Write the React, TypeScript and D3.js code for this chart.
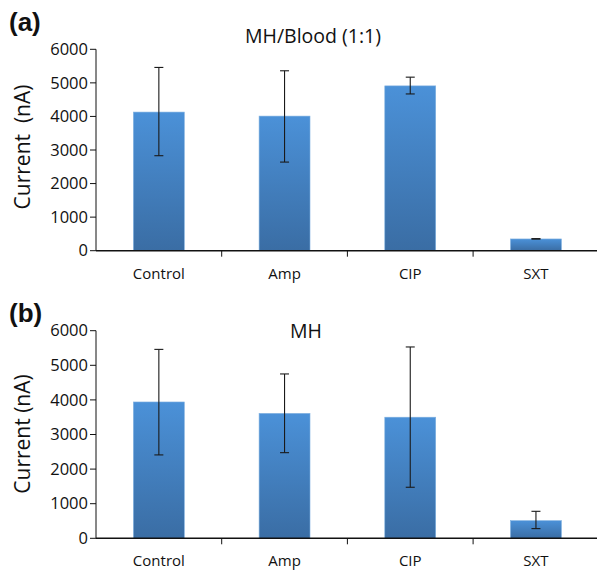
import React, { useEffect, useRef } from "react";
import * as d3 from "d3";

const categories = ["Control", "Amp", "CIP", "SXT"];
const yTicks = [0, 1000, 2000, 3000, 4000, 5000, 6000];

const bloodValues = [4130, 4010, 4910, 350];
const bloodErrLow = [2830, 2640, 4670, 345];
const bloodErrHigh = [5460, 5360, 5170, 360];

const mhValues = [3940, 3610, 3500, 510];
const mhErrLow = [2410, 2475, 1475, 280];
const mhErrHigh = [5460, 4750, 5530, 780];

const FONT = "'Open Sans', 'Liberation Sans', sans-serif";

type Panel = {
  tag: string;
  title: string;
  ylabel: string;
  values: number[];
  lo: number[];
  hi: number[];
  zeroY: number;
  topY: number;
  titleX: number;
  titleY: number;
  tagY: number;
  ylabelY: number;
};

const panels: Panel[] = [
  {
    tag: "(a)", title: "MH/Blood (1:1)", ylabel: "Current  (nA)",
    values: bloodValues, lo: bloodErrLow, hi: bloodErrHigh,
    zeroY: 250.7, topY: 49.3, titleX: 313, titleY: 43, tagY: 31, ylabelY: 147,
  },
  {
    tag: "(b)", title: "MH", ylabel: "Current (nA)",
    values: mhValues, lo: mhErrLow, hi: mhErrHigh,
    zeroY: 538.3, topY: 330.7, titleX: 306, titleY: 338, tagY: 322, ylabelY: 434,
  },
];

export default function App() {
  const ref = useRef<SVGSVGElement>(null);
  useEffect(() => {
    const svg = d3.select(ref.current);
    svg.selectAll("*").remove();
    const defs = svg.append("defs");
    const grad = defs.append("linearGradient").attr("id", "barGrad")
      .attr("x1", 0).attr("y1", 0).attr("x2", 0).attr("y2", 1);
    grad.append("stop").attr("offset", "0%").attr("stop-color", "#4b91d8");
    grad.append("stop").attr("offset", "100%").attr("stop-color", "#3a6da4");

    panels.forEach((p) => {
      const g = svg.append("g");
      const x = d3.scaleBand<string>().domain(categories).range([96, 598.8]).paddingInner(0).paddingOuter(0);
      const y = d3.scaleLinear().domain([0, 6000]).range([p.zeroY, p.topY]);
      const bw = x.bandwidth() * 0.405;

      // bars
      g.selectAll("rect.bar").data(categories).enter().append("rect")
        .attr("x", (d) => x(d)! + x.bandwidth() / 2 - bw / 2)
        .attr("y", (_, i) => y(p.values[i]))
        .attr("width", bw)
        .attr("height", (_, i) => y(0) - y(p.values[i]))
        .attr("fill", "url(#barGrad)")
        .attr("stroke", "#7fb0e0").attr("stroke-width", 0.6);

      // error bars
      categories.forEach((c, i) => {
        const cx = x(c)! + x.bandwidth() / 2;
        const eg = g.append("g").attr("stroke", "#1a1a1a").attr("stroke-width", 1.1);
        eg.append("line").attr("x1", cx).attr("x2", cx).attr("y1", y(p.lo[i])).attr("y2", y(p.hi[i]));
        [p.lo[i], p.hi[i]].forEach((v) => {
          eg.append("line").attr("x1", cx - 4.5).attr("x2", cx + 4.5).attr("y1", y(v)).attr("y2", y(v));
        });
      });

      // y axis
      g.append("line").attr("x1", 96).attr("x2", 96).attr("y1", p.topY).attr("y2", p.zeroY)
        .attr("stroke", "#111").attr("stroke-width", 1);
      yTicks.forEach((t) => {
        g.append("line").attr("x1", 90).attr("x2", 96).attr("y1", y(t)).attr("y2", y(t))
          .attr("stroke", "#111").attr("stroke-width", 1);
        g.append("text").attr("x", 88).attr("y", y(t)).attr("dy", "0.35em")
          .attr("text-anchor", "end").attr("font-family", FONT).attr("font-size", 16.5)
          .attr("fill", "#111").text(String(t));
      });

      // x axis
      g.append("line").attr("x1", 96).attr("x2", 598.8).attr("y1", p.zeroY).attr("y2", p.zeroY)
        .attr("stroke", "#111").attr("stroke-width", 1.6);
      categories.forEach((c, i) => {
        if (i > 0) {
          g.append("line").attr("x1", x(c)!).attr("x2", x(c)!).attr("y1", p.zeroY).attr("y2", p.zeroY + 6)
            .attr("stroke", "#111").attr("stroke-width", 1);
        }
        g.append("text").attr("x", x(c)! + x.bandwidth() / 2).attr("y", p.zeroY + 28)
          .attr("text-anchor", "middle").attr("font-family", FONT).attr("font-size", 15)
          .attr("fill", "#111").text(c);
      });

      // title
      g.append("text").attr("x", p.titleX).attr("y", p.titleY).attr("text-anchor", "middle")
        .attr("font-family", FONT).attr("font-size", 19.5).attr("fill", "#111").text(p.title);
      // tag
      g.append("text").attr("x", 9).attr("y", p.tagY)
        .attr("font-family", "'Liberation Sans', Arial, sans-serif").attr("font-weight", "bold")
        .attr("font-size", 26).attr("fill", "#111").text(p.tag);
      // y label
      g.append("text").attr("transform", `translate(30,${p.ylabelY}) rotate(-90)`)
        .attr("text-anchor", "middle").attr("font-family", FONT).attr("font-size", 21)
        .style("white-space", "pre")
        .attr("fill", "#111").text(p.ylabel);
    });
  }, []);
  return (
    <svg ref={ref} width={597} height={571} style={{ position: "absolute", left: 0, top: 0, background: "#fff" }} />
  );
}
